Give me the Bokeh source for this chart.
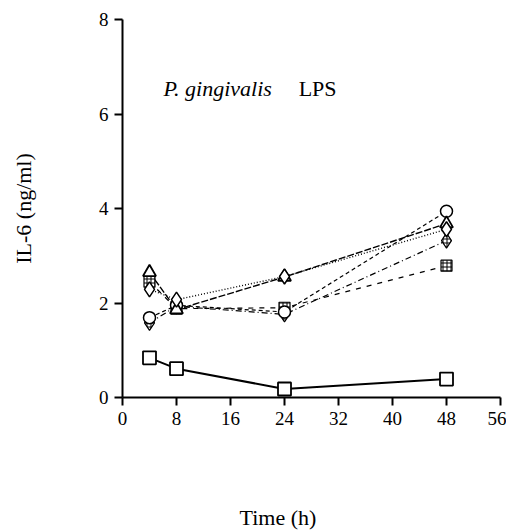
from bokeh.plotting import figure
from bokeh.models import Label, Range1d, FixedTicker, Title
from bokeh.embed import file_html
from bokeh.resources import INLINE

time_h = [4, 8, 24, 48]
x_ticks = [0, 8, 16, 24, 32, 40, 48, 56]
y_ticks = [0, 2, 4, 6, 8]

s_square = [0.84, 0.61, 0.18, 0.39]
s_circle = [1.69, 1.95, 1.81, 3.94]
s_triangle = [2.65, 1.86, 2.55, 3.68]
s_diamond = [2.29, 2.07, 2.56, 3.56]
s_hdiamond = [1.58, 1.93, 1.76, 3.32]
s_hsquare = [2.45, 1.88, 1.90, 2.79]

FONT = "Liberation Serif"
H = 531

p = figure(width=506, height=H, output_backend="svg", toolbar_location=None,
           x_range=Range1d(0, 56), y_range=Range1d(0, 8),
           min_border_left=122, min_border_right=6, min_border_top=19,
           min_border_bottom=H - 19 - 378)
p.outline_line_color = None
p.xgrid.grid_line_color = None
p.ygrid.grid_line_color = None
p.background_fill_color = "white"

for ax in (p.xaxis[0], p.yaxis[0]):
    ax.axis_line_width = 2
    ax.axis_line_color = "black"
    ax.major_tick_line_width = 2
    ax.major_tick_out = 8
    ax.major_tick_in = 0
    ax.minor_tick_line_color = None
    ax.major_label_text_font = FONT
    ax.major_label_text_font_size = "19px"
    ax.major_label_text_color = "black"
    ax.axis_label_text_font = FONT
    ax.axis_label_text_font_size = "22px"
    ax.axis_label_text_font_style = "normal"
    ax.axis_label_text_color = "black"

p.xaxis.ticker = FixedTicker(ticks=x_ticks)
p.yaxis.ticker = FixedTicker(ticks=y_ticks)
p.yaxis.axis_label = "IL-6 (ng/ml)"
p.yaxis.axis_label_standoff = 60
p.xaxis.major_label_standoff = 6
p.yaxis.major_label_standoff = 6

# lines
p.line(time_h, s_circle, line_color="black", line_width=1.2, line_dash="4 3")
p.line(time_h, s_hsquare, line_color="black", line_width=1.2, line_dash="5 6")
p.line(time_h, s_hdiamond, line_color="black", line_width=1.2, line_dash="6 3 1 3")
p.line(time_h, s_triangle, line_color="black", line_width=1.4, line_dash="7 2")
p.line(time_h, s_diamond, line_color="black", line_width=1.4, line_dash="1 2")
p.line(time_h, s_square, line_color="black", line_width=2)

# markers
p.scatter(time_h, s_hsquare, marker="square", size=11, fill_color="white",
          line_color="black", line_width=1.2, hatch_pattern="+", hatch_scale=4,
          hatch_color="black", hatch_weight=1)
p.scatter(time_h, s_hdiamond, marker="diamond", size=15, fill_color="white",
          line_color="black", line_width=1.2, hatch_pattern="+", hatch_scale=4,
          hatch_color="black", hatch_weight=1)
p.scatter(time_h, s_circle, marker="circle", size=12, fill_color="white",
          line_color="black", line_width=1.5)
p.scatter(time_h, s_triangle, marker="triangle", size=13, fill_color="white",
          line_color="black", line_width=1.8)
p.scatter(time_h, s_diamond, marker="diamond", size=15, fill_color="white",
          line_color="black", line_width=1.5)
p.scatter(time_h, s_square, marker="square", size=13, fill_color="white",
          line_color="black", line_width=1.8)

p.add_layout(Label(x=6.07, y=6.54, text="P. gingivalis", text_font=FONT,
                   text_font_style="italic", text_font_size="22px",
                   text_baseline="alphabetic", text_color="black"))
p.add_layout(Label(x=26.1, y=6.54, text="LPS", text_font=FONT,
                   text_font_size="22px", text_baseline="alphabetic",
                   text_color="black"))
# x axis title, lower and left of the frame centre as in the original
p.add_layout(Title(text="\n\nTime (h)", align="left", offset=117, standoff=0,
                   text_line_height=1.5,
                   text_font=FONT, text_font_size="22px",
                   text_font_style="normal", text_color="black"), "below")

open("out.html", "w").write(file_html(p, INLINE))
